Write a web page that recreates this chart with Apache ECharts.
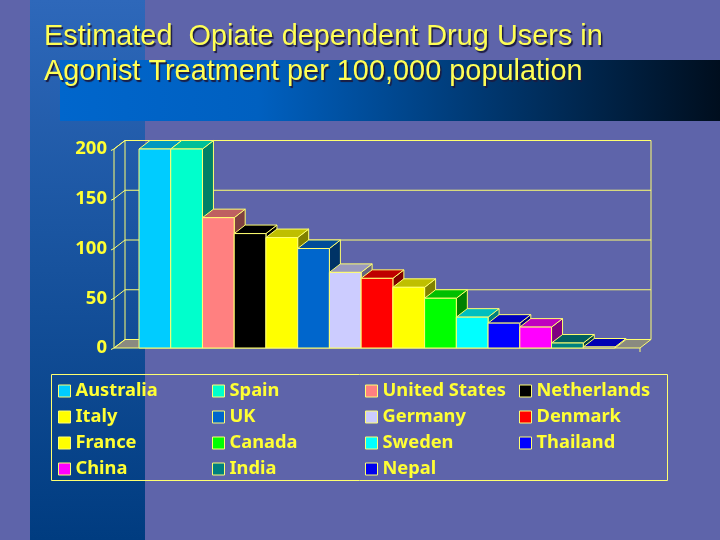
<!DOCTYPE html>
<html><head><meta charset="utf-8">
<style>html,body{margin:0;padding:0;background:#5e64aa}#c{width:720px;height:540px}</style>
<script src="https://cdn.jsdelivr.net/npm/echarts@6/dist/echarts.min.js"></script>
</head><body><div id="c"></div>
<script>
const titleText = 'Estimated  Opiate dependent Drug Users in\nAgonist Treatment per 100,000 population';
const countries = ['Australia','Spain','United States','Netherlands','Italy','UK','Germany','Denmark','France','Canada','Sweden','Thailand','China','India','Nepal'];
const values = [200,200,131,115,111,100,76,70,61,50,31,25,21,5,1];
const colors = ['#00ccff','#00ffcc','#ff8080','#000000','#ffff00','#0066cc','#ccccff','#ff0000','#ffff00','#00ff00','#00ffff','#0000ff','#ff00ff','#008080','#0000ee'];
const yTicks = [0,50,100,150,200];
const legendCols = [
  ['Australia','Italy','France','China'],
  ['Spain','UK','Canada','India'],
  ['United States','Germany','Sweden','Nepal'],
  ['Netherlands','Denmark','Thailand']
];
const legendLeft = [58,212,365,519];
const LINE = '#ffff70', TXT = '#ffff33';
const DX = 11, DY = 8.5, PAD = 25;

function shade(c, k){
  const a = echarts.color.parse(c);
  return 'rgb(' + Math.round(a[0]*k) + ',' + Math.round(a[1]*k) + ',' + Math.round(a[2]*k) + ')';
}
function renderWall(params, api){
  const cs = params.coordSys;
  const L = cs.x - PAD, R = cs.x + cs.width + PAD;
  const y0 = api.coord([0,0])[1], yT = api.coord([0,yTicks[yTicks.length-1]])[1];
  const st = {fill:'none', stroke:LINE, lineWidth:1};
  const kids = [];
  kids.push({type:'polygon',shape:{points:[[L,y0],[R,y0],[R+DX,y0-DY],[L+DX,y0-DY]]},style:{fill:'#8a8a80',stroke:LINE,lineWidth:1}});
  kids.push({type:'polyline',shape:{points:[[L,y0],[L,yT],[L+DX,yT-DY],[L+DX,y0-DY]]},style:st});
  kids.push({type:'polyline',shape:{points:[[R+DX,yT-DY],[R+DX,y0-DY]]},style:st});
  kids.push({type:'polyline',shape:{points:[[R,y0],[R,y0+4]]},style:st});
  yTicks.forEach(t=>{
    const y = api.coord([0,t])[1];
    kids.push({type:'polyline',shape:{points:[[L-3,y+1.5],[L,y],[L+DX,y-DY],[R+DX,y-DY]]},style:st});
  });
  return {type:'group',children:kids};
}
function renderBar(params, api){
  const p = api.coord([api.value(0),api.value(1)]);
  const b = api.coord([api.value(0),0]);
  const w = api.size([1,0])[0];
  const x0 = p[0]-w/2, x1 = p[0]+w/2, yt = p[1], yb = b[1];
  const c = api.visual('color');
  const top = shade(c,0.75);
  const side = shade(c,0.5);
  const st = {stroke:LINE,lineWidth:1};
  return {type:'group',children:[
    {type:'polygon',shape:{points:[[x1,yt],[x1+DX,yt-DY],[x1+DX,yb-DY],[x1,yb]]},style:{...st,fill:side}},
    {type:'polygon',shape:{points:[[x0,yt],[x0+DX,yt-DY],[x1+DX,yt-DY],[x1,yt]]},style:{...st,fill:top}},
    {type:'polygon',shape:{points:[[x0,yt],[x1,yt],[x1,yb],[x0,yb]]},style:{...st,fill:c}}
  ]};
}
const series = [{type:'custom',name:'wall',silent:true,clip:false,renderItem:renderWall,data:[[0,0]],encode:{x:0,y:1},z:2}];
countries.forEach((n,i)=>series.push({
  type:'custom',name:n,clip:false,renderItem:renderBar,
  itemStyle:{color:colors[i]},data:[[i,values[i]]],encode:{x:0,y:1},z:3
}));
const chart = echarts.init(document.getElementById('c'),null,{renderer:'canvas'});
chart.setOption({
  animation:false,
  backgroundColor:'#5e64aa',
  title:{text:titleText,left:44,top:20,padding:0,textStyle:{fontFamily:'Liberation Sans',fontWeight:'normal',fontSize:28.9,lineHeight:35,color:'#ffff55',textShadowColor:'#1a1a40',textShadowBlur:1,textShadowOffsetX:1.5,textShadowOffsetY:1.5}},
  grid:{left:139,width:476,top:149,height:199,containLabel:false},
  xAxis:{type:'category',data:countries,show:false},
  yAxis:{type:'value',min:0,max:200,interval:50,axisLine:{show:false},axisTick:{show:false},splitLine:{show:false},
    axisLabel:{margin:32,color:TXT,fontFamily:'Noto Sans',fontWeight:'bold',fontSize:18.5,padding:[2,0,0,0]}},
  legend:legendCols.map((d,i)=>({
    data:d,orient:'vertical',left:legendLeft[i],top:382,padding:0,itemWidth:12,itemHeight:12,itemGap:8,
    selectedMode:false,icon:'rect',itemStyle:{borderColor:LINE,borderWidth:1},
    textStyle:{color:TXT,fontFamily:'Noto Sans',fontWeight:'bold',fontSize:18.3,padding:0}
  })),
  graphic:[
    {type:'rect',silent:true,z:-10,shape:{x:30,y:0,width:115,height:540},style:{fill:new echarts.graphic.LinearGradient(0,0,0,1,[{offset:0,color:'#2e68ba'},{offset:1,color:'#003c80'}])}},
    {type:'rect',silent:true,z:-9,shape:{x:60,y:60,width:660,height:61},style:{fill:new echarts.graphic.LinearGradient(0,0,1,0,[{offset:0,color:'#0066cc'},{offset:0.3,color:'#0060c0'},{offset:1,color:'#000e1e'}])}},
    {type:'rect',silent:true,z:-8,shape:{x:51.5,y:374.5,width:616,height:106},style:{fill:'none',stroke:LINE,lineWidth:1}}
  ],
  series
});
</script></body></html>
